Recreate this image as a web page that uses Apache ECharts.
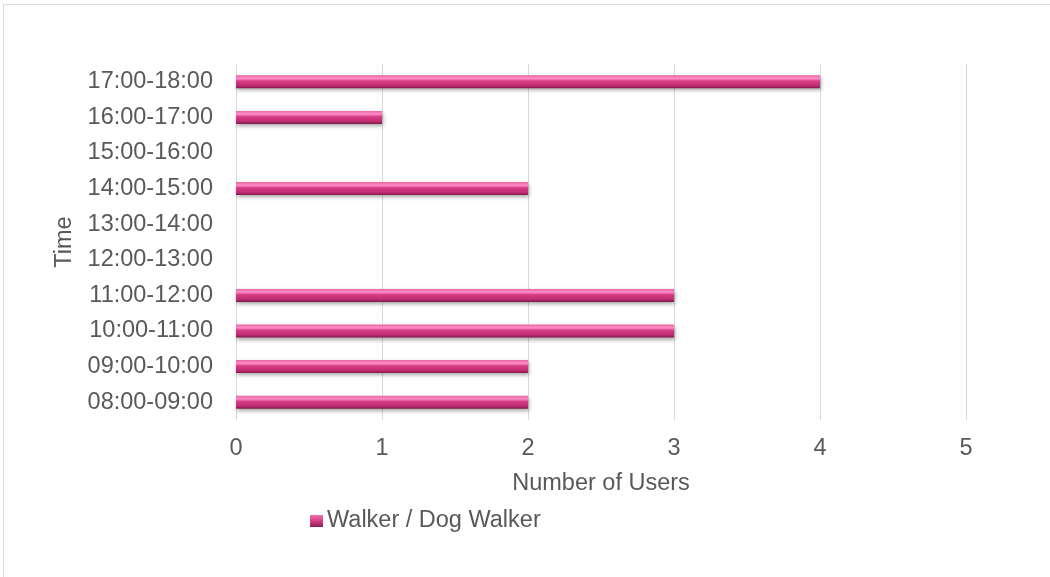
<!DOCTYPE html>
<html><head><meta charset="utf-8">
<script src="https://cdn.jsdelivr.net/npm/echarts@6/dist/echarts.min.js"></script>
<style>
html,body{margin:0;padding:0;background:#fff;}
#frame{position:absolute;left:3px;top:4px;width:1100px;height:620px;border:1px solid #d9d9d9;box-sizing:border-box;}
#chart{position:absolute;left:0;top:0;width:1050px;height:577px;}
</style>
</head><body>
<div id="frame"></div>
<div id="chart"></div>
<script>
const categories = ['08:00-09:00','09:00-10:00','10:00-11:00','11:00-12:00','12:00-13:00','13:00-14:00','14:00-15:00','15:00-16:00','16:00-17:00','17:00-18:00'];
const walkerValues = [2,2,3,3,0,0,2,0,1,4];
const xTicks = [0,1,2,3,4,5];
const seriesName = 'Walker / Dog Walker';

const chart = echarts.init(document.getElementById('chart'));
const barGrad = new echarts.graphic.LinearGradient(0,0,0,1,[
  {offset:0,color:'#e8679f'},
  {offset:0.25,color:'#ff8cc8'},
  {offset:0.45,color:'#d63c84'},
  {offset:0.8,color:'#c02c72'},
  {offset:1,color:'#7d1a48'}
]);
const legendGrad = new echarts.graphic.LinearGradient(0,0,0,1,[
  {offset:0,color:'#f070b0'},
  {offset:0.5,color:'#d63c84'},
  {offset:1,color:'#8a1e50'}
]);
const FS = 23.5;
chart.setOption({
  animation:false,
  textStyle:{fontFamily:'Liberation Sans, Arial, sans-serif'},
  grid:{left:236,right:84,top:64,bottom:157,containLabel:false},
  xAxis:{
    type:'value',min:xTicks[0],max:xTicks[xTicks.length-1],interval:1,
    name:'Number of Users',nameLocation:'middle',nameGap:52,
    nameTextStyle:{fontSize:FS,color:'#595959'},
    axisLabel:{fontSize:FS,color:'#595959',margin:17},
    axisLine:{show:false},axisTick:{show:false},
    splitLine:{show:true,lineStyle:{color:'#d9d9d9',width:1}}
  },
  yAxis:{
    type:'category',data:categories,
    name:'Time',nameLocation:'middle',nameGap:158,nameRotate:90,
    nameTextStyle:{fontSize:FS,color:'#595959'},
    axisLabel:{fontSize:FS,color:'#595959',margin:23},
    axisLine:{show:true,lineStyle:{color:'#d9d9d9'}},axisTick:{show:false}
  },
  legend:{
    left:305,top:504,itemWidth:13,itemHeight:12,itemGap:5,
    icon:'rect',
    textStyle:{fontSize:FS,color:'#595959',padding:[0,0,0,-1]},
    data:[{name:seriesName,itemStyle:{color:legendGrad}}]
  },
  series:[{
    name:seriesName,type:'bar',data:walkerValues,barWidth:13,
    itemStyle:{color:barGrad,shadowColor:'rgba(0,0,0,0.35)',shadowBlur:4,shadowOffsetY:2,shadowOffsetX:1}
  }]
});
</script>
</body></html>
